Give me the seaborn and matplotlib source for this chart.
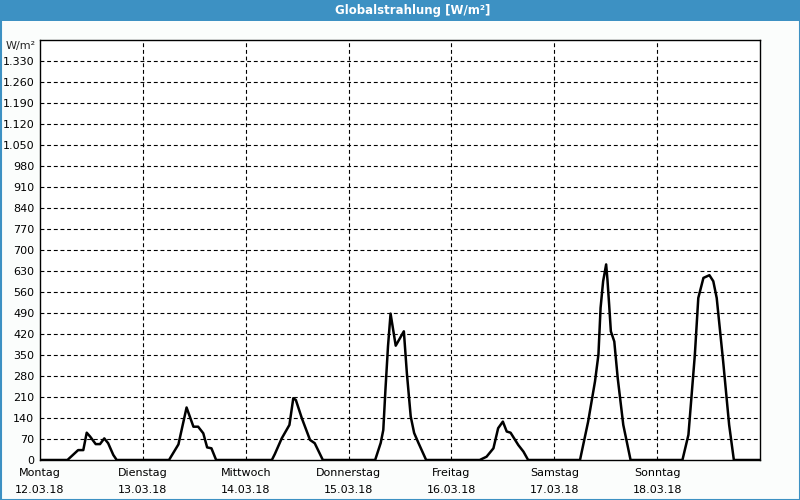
import matplotlib
matplotlib.use("Agg")
import matplotlib.pyplot as plt
import matplotlib.patches as mpatches
import seaborn as sns
import pandas as pd
import numpy as np

# ---- data (hour of day, W/m²) ----
day_names = ["Montag", "Dienstag", "Mittwoch", "Donnerstag", "Freitag", "Samstag", "Sonntag"]
day_dates = ["12.03.18", "13.03.18", "14.03.18", "15.03.18", "16.03.18", "17.03.18", "18.03.18"]

mon_h = [6.4, 8.9, 10.1, 10.9, 11.7, 13.0, 14.0, 15.0, 15.9, 17.1, 17.9]
mon_v = [0, 33, 33, 91, 78, 53, 53, 72, 56, 17, 0]
tue_h = [6.1, 8.3, 10.2, 11.8, 12.9, 14.1, 15.0, 16.0, 17.1]
tue_v = [0, 52, 175, 111, 111, 89, 42, 39, 0]
wed_h = [6.1, 6.8, 8.4, 10.2, 11.1, 11.7, 13.1, 15.0, 16.1, 18.0]
wed_v = [0, 20, 72, 117, 206, 200, 139, 67, 56, 0]
thu_h = [6.2, 7.5, 8.1, 8.6, 9.2, 9.8, 11.0, 12.9, 13.6, 14.5, 15.3, 16.3, 18.1]
thu_v = [0, 57, 100, 234, 379, 488, 381, 429, 290, 145, 90, 57, 0]
fri_h = [6.6, 8.2, 9.8, 10.9, 12.0, 12.9, 13.8, 15.6, 16.8, 17.9]
fri_v = [0, 11, 39, 106, 128, 95, 91, 50, 28, 0]
sat_h = [6.0, 7.9, 9.5, 10.3, 10.8, 11.4, 12.1, 12.4, 12.8, 13.2, 14.0, 14.8, 16.1, 17.8]
sat_v = [0, 128, 262, 351, 507, 596, 652, 602, 518, 429, 395, 273, 117, 0]
sun_h = [5.9, 7.3, 8.8, 9.6, 10.8, 12.2, 13.1, 13.9, 15.4, 16.8, 17.9]
sun_v = [0, 84, 351, 540, 607, 616, 596, 540, 329, 117, 0]

y_ticks = list(range(70, 1331, 70))

days_h = [mon_h, tue_h, wed_h, thu_h, fri_h, sat_h, sun_h]
days_v = [mon_v, tue_v, wed_v, thu_v, fri_v, sat_v, sun_v]

hours, vals = [0.0], [0.0]
for i, (h, v) in enumerate(zip(days_h, days_v)):
    hours += [i * 24 + x for x in h]
    vals += list(v)
hours.append(168.0)
vals.append(0.0)
df = pd.DataFrame({"t": hours, "w": vals})

# ---- figure ----
sns.set_theme(style="white")
plt.rcParams['font.family'] = ['DejaVu Sans']
bg = '#fbfdfc'
blue = '#3d91c3'
fig = plt.figure(figsize=(8, 5), dpi=100, facecolor=bg)
ax = fig.add_axes([40/800, 40/500, 720/800, 420/500])
ax.set_facecolor('white')

sns.lineplot(data=df, x="t", y="w", color="black", lw=1.8, ax=ax, zorder=5)

ax.set_xlim(0, 168)
ax.set_ylim(0, 1400)
ax.set_xticks([i * 24 for i in range(7)])
ax.set_xticklabels([f"{n}\n{d}" for n, d in zip(day_names, day_dates)],
                   fontsize=8, linespacing=1.85)
ax.set_yticks([0] + y_ticks)
ax.set_yticklabels([f"{v:,}".replace(",", ".") for v in [0] + y_ticks], fontsize=8)
ax.tick_params(axis='both', length=0, colors='black')
ax.tick_params(axis='x', pad=6)
ax.tick_params(axis='y', pad=4)
ax.set_xlabel("")
ax.set_ylabel("")

for y in y_ticks:
    ax.axhline(y, color='black', lw=0.8, ls=(0, (3.5, 2.5)), zorder=1)
for x in range(24, 168, 24):
    ax.axvline(x, color='black', lw=0.8, ls=(0, (3.5, 2.5)), zorder=1)

for s in ax.spines.values():
    s.set_visible(True)
    s.set_color('black')
    s.set_linewidth(1.0)

fig.text(36/800, 1 - 46/500, "W/m²", ha='right', va='center', fontsize=8)

# title bar
fig.patches.append(mpatches.Rectangle((0, 1 - 21/500), 1, 21/500, transform=fig.transFigure,
                                      facecolor=blue, edgecolor='none', zorder=0))
fig.text(413/800, 1 - 10.5/500, "Globalstrahlung [W/m²]", ha='center', va='center',
         fontsize=8.5, fontweight='bold', color='white')
# outer border
fig.patches.append(mpatches.Rectangle((0.5/800, 0.5/500), 799/800, 499/500, transform=fig.transFigure,
                                      facecolor='none', edgecolor=blue, lw=1.5, zorder=10))

fig.savefig("out.png", dpi=100, facecolor=bg)
